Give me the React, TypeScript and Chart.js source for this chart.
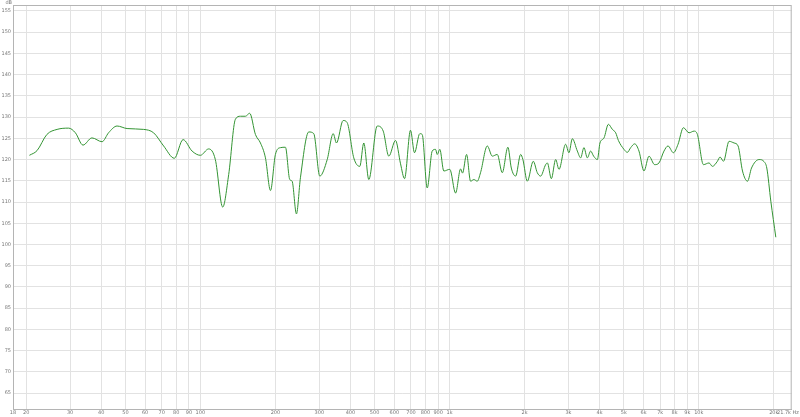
import React, { useEffect, useRef } from "react";
import { Chart, registerables } from "chart.js";

Chart.register(...registerables);

const freqHz = [20.6, 22.1, 24.2, 26.6, 29.6, 31.5, 33.8, 36.7, 40.3, 42.8, 46.3, 50.8, 59.2, 64.9, 71.2, 78.6, 85.2, 92.6, 100, 107.9, 114.8, 122.9, 129.9, 138.2, 144.7, 151.6, 157.7, 166.3, 174.2, 182.4, 191.1, 200, 209.5, 219.4, 228.3, 233.4, 242.9, 252, 272.2, 285.1, 301.4, 322.8, 341.2, 351.6, 374, 388.1, 412.6, 436.2, 452.6, 474.1, 512.4, 541.6, 570.4, 606.8, 635.6, 659.6, 696.9, 723.1, 759.4, 776.5, 813.2, 851.7, 878.2, 892.1, 913.7, 948.1, 1002, 1057, 1107, 1127, 1170, 1214, 1252, 1291, 1331, 1417, 1484, 1554, 1627, 1714, 1769, 1841, 1928, 1969, 2051, 2167, 2249, 2319, 2429, 2468, 2561, 2665, 2748, 2922, 3013, 3109, 3256, 3357, 3461, 3571, 3682, 3785, 3918, 4013, 4166, 4337, 4501, 4641, 4758, 5010, 5169, 5330, 5531, 5755, 6027, 6313, 6653, 6923, 7251, 7525, 7911, 8256, 8676, 9138, 9569, 9875, 10441, 10996, 11346, 11881, 12169, 12566, 13232, 13860, 14381, 14980, 15690, 16280, 17463, 18287, 18751, 19460, 20380];

const splDb = [121.0, 122.1, 125.9, 127.1, 127.4, 126.3, 123.4, 125.1, 124.2, 126.3, 127.9, 127.3, 127.1, 126.3, 123.2, 120.3, 124.7, 122.0, 121.0, 122.5, 120.0, 108.8, 116.5, 129.5, 130.2, 130.2, 130.9, 125.9, 123.9, 120.4, 112.7, 121.2, 122.8, 122.9, 115.3, 114.9, 107.2, 115.7, 126.5, 126.1, 116.1, 120.0, 126.1, 123.9, 129.2, 128.7, 120.4, 118.4, 123.9, 115.3, 127.9, 126.7, 120.8, 124.5, 119.0, 115.5, 126.9, 121.6, 126.1, 125.9, 113.3, 122.0, 122.4, 121.2, 122.4, 117.3, 117.7, 112.1, 117.8, 116.8, 121.2, 114.9, 115.3, 114.9, 116.9, 123.2, 120.8, 121.2, 116.9, 122.9, 118.0, 116.1, 121.2, 120.0, 114.9, 119.6, 116.9, 116.1, 118.8, 119.2, 115.5, 120.0, 117.7, 123.6, 121.6, 124.9, 122.0, 120.4, 122.8, 120.4, 122.0, 120.8, 120.0, 123.9, 125.1, 128.3, 127.1, 126.3, 124.5, 122.4, 121.7, 122.8, 123.7, 122.0, 117.3, 120.8, 118.8, 119.2, 122.0, 123.2, 121.6, 123.6, 127.5, 126.3, 126.7, 125.9, 118.8, 119.2, 118.4, 119.6, 120.6, 119.6, 124.3, 123.9, 123.2, 117.3, 114.9, 118.0, 120.0, 119.5, 118.0, 110.2, 101.7];

const xTickValues = [17.7, 20, 30, 40, 50, 60, 70, 80, 90, 100, 200, 300, 400, 500, 600, 700, 800, 900, 1000, 2000, 3000, 4000, 5000, 6000, 7000, 8000, 9000, 10000, 20000, 22800];
const xTickLabels = ["18", "20", "30", "40", "50", "60", "70", "80", "90", "100", "200", "300", "400", "500", "600", "700", "800", "900", "1k", "2k", "3k", "4k", "5k", "6k", "7k", "8k", "9k", "10k", "20k", "21.7k Hz"];
const yTickValues = [65, 70, 75, 80, 85, 90, 95, 100, 105, 110, 115, 120, 125, 130, 135, 140, 145, 150, 155];
const yUnit = "dB";

const X_MIN = 17.7;
const X_MAX = 23600;
const Y_MIN = 61.25;
const Y_MAX = 156.4;

const framePlugin = {
  id: "frame",
  afterDraw(chart: any) {
    const { ctx, chartArea } = chart;
    ctx.save();
    ctx.strokeStyle = "#b4b4b4";
    ctx.lineWidth = 1;
    ctx.strokeRect(chartArea.left + 0.5, chartArea.top + 0.5, chartArea.right - chartArea.left - 1, chartArea.bottom - chartArea.top);
    ctx.fillStyle = "#777";
    ctx.font = "5px 'DejaVu Sans', sans-serif";
    ctx.textAlign = "right";
    ctx.textBaseline = "top";
    ctx.fillText(yUnit, 12, 0);
    ctx.restore();
  },
};

export default function App() {
  const ref = useRef<HTMLCanvasElement | null>(null);

  useEffect(() => {
    if (!ref.current) return;
    const data = freqHz.map((f, i) => ({ x: f, y: splDb[i] }));
    const lastIdx = xTickValues.length - 1;
    const chart = new Chart(ref.current, {
      type: "line",
      data: {
        datasets: [
          {
            data,
            borderColor: "#339433",
            borderWidth: 1,
            pointRadius: 0,
            cubicInterpolationMode: "monotone",
            fill: false,
          },
        ],
      },
      options: {
        animation: false,
        responsive: false,
        maintainAspectRatio: false,
        layout: { padding: { left: 0, top: 4, right: 7, bottom: 0 } },
        plugins: { legend: { display: false }, tooltip: { enabled: false } },
        scales: {
          x: {
            type: "logarithmic",
            min: X_MIN,
            max: X_MAX,
            afterBuildTicks: (scale: any) => {
              scale.ticks = xTickValues.map((v) => ({ value: v }));
            },
            afterFit: (scale: any) => {
              scale.height = 8;
            },
            ticks: {
              autoSkip: false,
              maxRotation: 0,
              minRotation: 0,
              padding: 1,
              color: "#777",
              font: { size: 5, family: "'DejaVu Sans', sans-serif" },
              callback: (_v: any, i: number) => xTickLabels[i],
            },
            grid: {
              color: (c: any) => (c.index === lastIdx ? "rgba(0,0,0,0)" : "#e2e2e2"),
              drawTicks: false,
              lineWidth: 1,
            },
            border: { color: "#b4b4b4", width: 1 },
          },
          y: {
            type: "linear",
            min: Y_MIN,
            max: Y_MAX,
            afterBuildTicks: (scale: any) => {
              scale.ticks = yTickValues.map((v) => ({ value: v }));
            },
            afterFit: (scale: any) => {
              scale.width = 13;
            },
            ticks: {
              padding: 2,
              color: "#777",
              font: { size: 5, family: "'DejaVu Sans', sans-serif" },
              callback: (v: any) => String(v),
            },
            grid: { color: "#e2e2e2", drawTicks: false, lineWidth: 1 },
            border: { color: "#b4b4b4", width: 1 },
          },
        },
      },
      plugins: [framePlugin],
    });
    return () => chart.destroy();
  }, []);

  return (
    <div style={{ position: "fixed", left: 0, top: 0, width: 800, height: 417, background: "#fff" }}>
      <canvas ref={ref} width={800} height={417} style={{ width: 800, height: 417, display: "block" }} />
    </div>
  );
}
